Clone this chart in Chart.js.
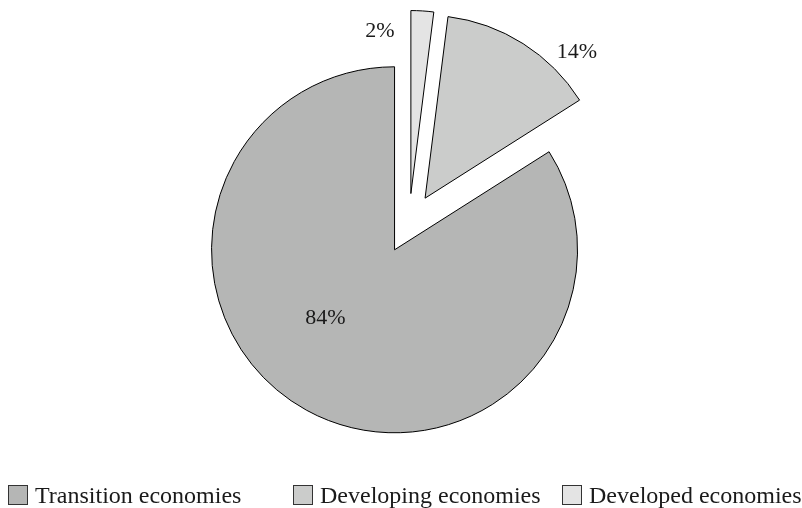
<!DOCTYPE html>
<html>
<head>
<meta charset="utf-8">
<title>Economies share</title>
<script src="https://cdn.jsdelivr.net/npm/chart.js@4.4.1/dist/chart.umd.min.js"></script>
<style>
  body { margin: 0; background: #fff; }
  #wrap { position: relative; width: 802px; height: 508px; }
  #pie { position: absolute; left: 0; top: 0; }
  .legend-item {
    position: absolute;
    top: 483px;
    display: flex;
    align-items: flex-start;
    gap: 7px;
    font: 24px "Liberation Serif", "Times New Roman", serif;
    line-height: 24px;
    color: #1a1a1a;
    white-space: nowrap;
  }
  .legend-box {
    margin-top: 2px;
    width: 18px;
    height: 18px;
    border: 1px solid #333;
  }
</style>
</head>
<body>
<div id="wrap">
  <canvas id="pie" width="802" height="508"></canvas>
</div>
<script>
// legend order
const labels = ["Transition economies", "Developing economies", "Developed economies"];
const shares = [84, 14, 2];

const SLICE_COLORS = ["#b5b6b5", "#cbcccb", "#e4e4e4"];
const EXPLODE = 30;
// label spot per slice: degrees away from the slice middle, radius factor
const LABEL_SPOT = [[16.6, 0.53], [13.7, 1.152], [-14.4, 0.904]];
const LEGEND_X = [8, 293, 562];

// slices run clockwise from the top in the reverse of the legend order
const order = labels.map((_, i) => i).reverse();

function midAngle(arc) {
  return (arc.startAngle + arc.endAngle) / 2;
}

// every slice is pulled out from the centre by the same distance
const explodePlugin = {
  id: "explode",
  beforeDatasetDraw(chart, args) {
    const ctx = chart.ctx;
    args.meta.data.forEach((arc) => {
      const mid = midAngle(arc);
      ctx.save();
      ctx.translate(Math.cos(mid) * EXPLODE, Math.sin(mid) * EXPLODE);
      arc.draw(ctx, chart.chartArea);
      ctx.restore();
    });
    return false;
  },
  afterDatasetsDraw(chart) {
    const ctx = chart.ctx;
    const meta = chart.getDatasetMeta(0);
    ctx.save();
    ctx.font = '22px "Liberation Serif", "Times New Roman", serif';
    ctx.fillStyle = "#1a1a1a";
    ctx.textAlign = "center";
    ctx.textBaseline = "middle";
    meta.data.forEach((arc, j) => {
      const i = order[j];
      const mid = midAngle(arc);
      const vx = arc.x + Math.cos(mid) * EXPLODE;
      const vy = arc.y + Math.sin(mid) * EXPLODE;
      const a = mid + LABEL_SPOT[i][0] * Math.PI / 180;
      const r = arc.outerRadius * LABEL_SPOT[i][1];
      ctx.fillText(shares[i] + "%", vx + Math.cos(a) * r, vy + Math.sin(a) * r);
    });
    ctx.restore();
  },
};

new Chart(document.getElementById("pie"), {
  type: "pie",
  data: {
    labels: order.map((i) => labels[i]),
    datasets: [{
      data: order.map((i) => shares[i]),
      backgroundColor: order.map((i) => SLICE_COLORS[i]),
      borderColor: "#000",
      borderWidth: 1,
      borderJoinStyle: "miter",
    }],
  },
  options: {
    responsive: false,
    animation: false,
    rotation: 0,
    radius: 183,
    layout: { padding: { left: 16, right: 0, top: 0, bottom: 61 } },
    plugins: {
      legend: { display: false },
      tooltip: { enabled: false },
    },
    events: [],
  },
  plugins: [explodePlugin],
});

// legend row under the pie
const wrap = document.getElementById("wrap");
labels.forEach((label, i) => {
  const item = document.createElement("div");
  item.className = "legend-item";
  item.style.left = LEGEND_X[i] + "px";
  const box = document.createElement("span");
  box.className = "legend-box";
  box.style.background = SLICE_COLORS[i];
  const text = document.createElement("span");
  text.textContent = label;
  item.appendChild(box);
  item.appendChild(text);
  wrap.appendChild(item);
});
</script>
</body>
</html>
